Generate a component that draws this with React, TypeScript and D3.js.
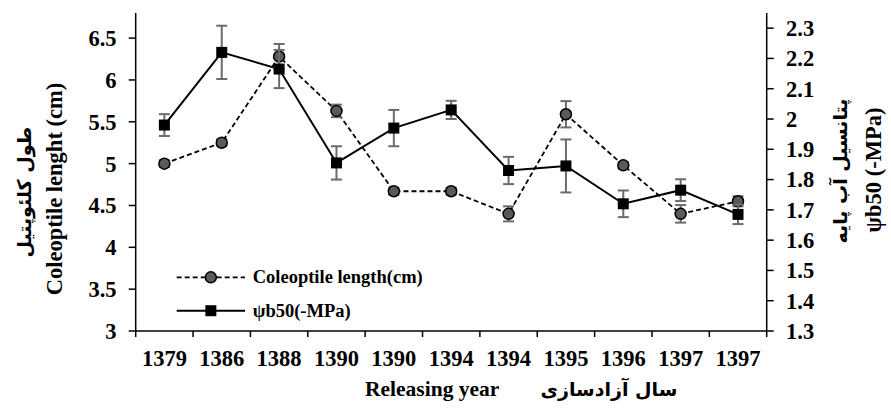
import React from 'react';
import * as d3 from 'd3';

const categories = ['1379', '1386', '1388', '1390', '1390', '1394', '1394', '1395', '1396', '1397', '1397'];
const coleoptileLength = [5.0, 5.25, 6.28, 5.63, 4.67, 4.67, 4.4, 5.59, 4.98, 4.4, 4.55];
const coleoptileError = [0.04, 0.04, 0.15, 0.075, 0.04, 0.04, 0.09, 0.157, 0.04, 0.105, 0.06];
const psiB50 = [1.98, 2.22, 2.165, 1.855, 1.97, 2.03, 1.83, 1.845, 1.72, 1.765, 1.685];
const psiB50Error = [0.036, 0.088, 0.063, 0.055, 0.06, 0.03, 0.045, 0.0875, 0.044, 0.036, 0.032];
const leftTicks = [3, 3.5, 4, 4.5, 5, 5.5, 6, 6.5];
const rightTicks = [1.3, 1.4, 1.5, 1.6, 1.7, 1.8, 1.9, 2, 2.1, 2.2, 2.3];
const leftDomain = [3, 6.8];
const rightDomain = [1.3, 2.35];

const W = 891;
const H = 408;
const M = { left: 135.7, right: 766.7, top: 13, bottom: 331 };
const SERIF: React.CSSProperties = { fontFamily: "'Liberation Serif', 'Times New Roman', serif", fontWeight: 700 };
const ARABIC: React.CSSProperties = { fontFamily: "'DejaVu Sans', sans-serif", fontWeight: 700 };
const ERR = '#6b6b6b';
const TICK_FS = 22.5;

export default function App() {
  const idx = categories.map((_, i) => String(i));
  const x = d3.scaleBand<string>().domain(idx).range([M.left, M.right]).padding(0);
  const cx = (i: number) => (x(String(i)) as number) + x.bandwidth() / 2;
  const yL = d3.scaleLinear().domain(leftDomain).range([M.bottom, M.top]);
  const yR = d3.scaleLinear().domain(rightDomain).range([M.bottom, M.top]);

  const lineL = d3.line<number>().x((_, i) => cx(i)).y((d) => yL(d));
  const lineR = d3.line<number>().x((_, i) => cx(i)).y((d) => yR(d));

  const boundaries = idx.map((k) => x(k) as number).concat([M.right]);
  const cap = 5.5;
  const sq = 11;

  const errBar = (key: string, xc: number, y1: number, y2: number) => (
    <g key={key} stroke={ERR} strokeWidth={2}>
      <line x1={xc} x2={xc} y1={y1} y2={y2} />
      <line x1={xc - cap} x2={xc + cap} y1={y1} y2={y1} />
      <line x1={xc - cap} x2={xc + cap} y1={y2} y2={y2} />
    </g>
  );

  const legX1 = 176.7;
  const legX2 = 245;
  const legMid = (legX1 + legX2) / 2;
  const legY1 = 277.3;
  const legY2 = 310.7;

  return (
    <svg width={W} height={H} style={{ position: 'absolute', left: 0, top: 0, background: '#fff' }}>
      <rect x={0} y={0} width={W} height={H} fill="#fff" />

      {/* axes */}
      <g stroke="#000" strokeWidth={1.5}>
        <line x1={M.left} x2={M.left} y1={M.top} y2={M.bottom} />
        <line x1={M.right} x2={M.right} y1={M.top} y2={M.bottom} />
        <line x1={M.left} x2={M.right} y1={M.bottom} y2={M.bottom} />
        {leftTicks.map((t) => (
          <line key={'lt' + t} x1={M.left - 7} x2={M.left} y1={yL(t)} y2={yL(t)} />
        ))}
        {rightTicks.map((t) => (
          <line key={'rt' + t} x1={M.right} x2={M.right + 7} y1={yR(t)} y2={yR(t)} />
        ))}
        {boundaries.map((b, i) => (
          <line key={'xt' + i} x1={b} x2={b} y1={M.bottom} y2={M.bottom + 6} />
        ))}
      </g>

      {/* tick labels */}
      <g fill="#000">
        {leftTicks.map((t) => (
          <text key={'ll' + t} x={116.5} y={yL(t)} dy="0.35em" textAnchor="end" style={{ ...SERIF, fontSize: TICK_FS }}>
            {String(t)}
          </text>
        ))}
        {rightTicks.map((t) => (
          <text key={'rl' + t} x={786} y={yR(t)} dy="0.35em" textAnchor="start" style={{ ...SERIF, fontSize: TICK_FS }}>
            {String(t)}
          </text>
        ))}
        {categories.map((c, i) => (
          <text key={'xl' + i} x={cx(i)} y={366} textAnchor="middle" style={{ ...SERIF, fontSize: TICK_FS }}>
            {c}
          </text>
        ))}
      </g>

      {/* axis titles */}
      <text transform="translate(62,189) rotate(-90)" textAnchor="middle" style={{ ...SERIF, fontSize: 22.5 }}>
        Coleoptile lenght (cm)
      </text>
      <text transform="translate(31,192) rotate(-90)" textAnchor="middle" style={{ ...ARABIC, fontSize: 19 }}>
        طول کلئوپتیل
      </text>
      <text transform="translate(881,170) rotate(-90)" textAnchor="middle" style={{ ...SERIF, fontSize: 22.5 }}>
        ψb50 (-MPa)
      </text>
      <text transform="translate(847,171) rotate(-90)" textAnchor="middle" style={{ ...ARABIC, fontSize: 19 }}>
        پتانسیل آب پایه
      </text>
      <text x={365} y={396} style={{ ...SERIF, fontSize: 21.5 }}>
        Releasing year
      </text>
      <text x={609} y={396} textAnchor="middle" style={{ ...ARABIC, fontSize: 19 }}>
        سال آزادسازی
      </text>

      {/* coleoptile series (left axis) */}
      <path d={lineL(coleoptileLength) || ''} fill="none" stroke="#000" strokeWidth={1.8} strokeDasharray="5,3" />
      {coleoptileLength.map((v, i) =>
        errBar('ce' + i, cx(i), yL(v + coleoptileError[i]), yL(v - coleoptileError[i]))
      )}
      {coleoptileLength.map((v, i) => (
        <circle key={'c' + i} cx={cx(i)} cy={yL(v)} r={5.5} fill="#5a5a5a" stroke="#000" strokeWidth={1.5} />
      ))}

      {/* psi b50 series (right axis) */}
      <path d={lineR(psiB50) || ''} fill="none" stroke="#000" strokeWidth={2} />
      {psiB50.map((v, i) => errBar('pe' + i, cx(i), yR(v + psiB50Error[i]), yR(v - psiB50Error[i])))}
      {psiB50.map((v, i) => (
        <rect key={'s' + i} x={cx(i) - sq / 2} y={yR(v) - sq / 2} width={sq} height={sq} fill="#000" />
      ))}

      {/* legend */}
      <line x1={legX1} x2={legX2} y1={legY1} y2={legY1} stroke="#000" strokeWidth={1.8} strokeDasharray="5,3" />
      <circle cx={legMid} cy={legY1} r={5.5} fill="#5a5a5a" stroke="#000" strokeWidth={1.5} />
      <text x={252.7} y={legY1 + 6} style={{ ...SERIF, fontSize: 18.5 }}>
        Coleoptile length(cm)
      </text>
      <line x1={legX1} x2={legX2} y1={legY2} y2={legY2} stroke="#000" strokeWidth={2} />
      <rect x={legMid - sq / 2} y={legY2 - sq / 2} width={sq} height={sq} fill="#000" />
      <text x={252.7} y={legY2 + 6} style={{ ...SERIF, fontSize: 18.5 }}>
        ψb50(-MPa)
      </text>
    </svg>
  );
}
